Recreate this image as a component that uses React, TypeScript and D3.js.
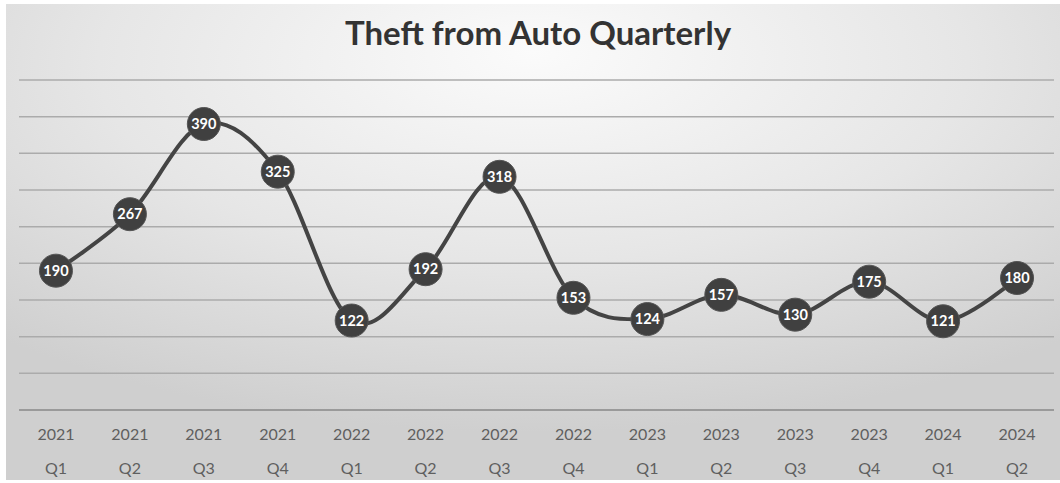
import React from "react";
import * as d3 from "d3";

const years = ["2021","2021","2021","2021","2022","2022","2022","2022","2023","2023","2023","2023","2024","2024"];
const quarters = ["Q1","Q2","Q3","Q4","Q1","Q2","Q3","Q4","Q1","Q2","Q3","Q4","Q1","Q2"];
const values = [190,267,390,325,122,192,318,153,124,157,130,175,121,180];
const yTicks = [0,50,100,150,200,250,300,350,400,450];
const title = "Theft from Auto Quarterly";

const W = 1060, H = 483;

export default function App() {
  const keys = values.map((_, i) => String(i));
  const x = d3.scaleBand().domain(keys).range([19, 1054]);
  const y = d3.scaleLinear().domain([0, 450]).range([410, 80]);
  const cx = (i: number) => (x(String(i)) as number) + x.bandwidth() / 2;
  const line = d3.line<number>()
    .x((_, i) => cx(i))
    .y((d) => y(d))
    .curve(d3.curveCatmullRom.alpha(0));
  const font = "Lato, 'Open Sans', sans-serif";
  return (
    <svg width={W} height={H} style={{ position: "absolute", left: 0, top: 0 }}>
      <defs>
        <radialGradient id="bg" cx="50%" cy="15%" r="75%" fx="50%" fy="10%">
          <stop offset="0%" stopColor="#fbfbfb" />
          <stop offset="55%" stopColor="#e6e6e6" />
          <stop offset="100%" stopColor="#cfcfcf" />
        </radialGradient>
      </defs>
      <rect x={0} y={0} width={W} height={H} fill="#ffffff" />
      <rect x={6} y={4} width={W - 6} height={476} fill="url(#bg)" />
      <text x={538} y={45} textAnchor="middle" fontFamily={font} fontWeight={700} fontSize={33} fill="#333333">{title}</text>
      {yTicks.map((t) => (
        <line key={t} x1={19} x2={1054} y1={y(t)} y2={y(t)} stroke={t === 0 ? "#9a9a9a" : "#ababab"} strokeWidth={t === 0 ? 2 : 1.5} />
      ))}
      {values.map((_, i) => (
        <g key={"lab" + i} fontFamily={font} fontSize={16} fill="#5f5f5f" textAnchor="middle">
          <text x={cx(i)} y={440}>{years[i]}</text>
          <text x={cx(i)} y={474}>{quarters[i]}</text>
        </g>
      ))}
      <path d={line(values) || ""} fill="none" stroke="#444444" strokeWidth={4} strokeLinejoin="round" />
      {values.map((v, i) => (
        <g key={"pt" + i}>
          <circle cx={cx(i)} cy={y(v)} r={16.5} fill="#404040" stroke="#555555" strokeWidth={1} />
          <text x={cx(i)} y={y(v) + 5} textAnchor="middle" fontFamily={font} fontWeight={700} fontSize={14.5} fill="#ffffff">{v}</text>
        </g>
      ))}
    </svg>
  );
}
